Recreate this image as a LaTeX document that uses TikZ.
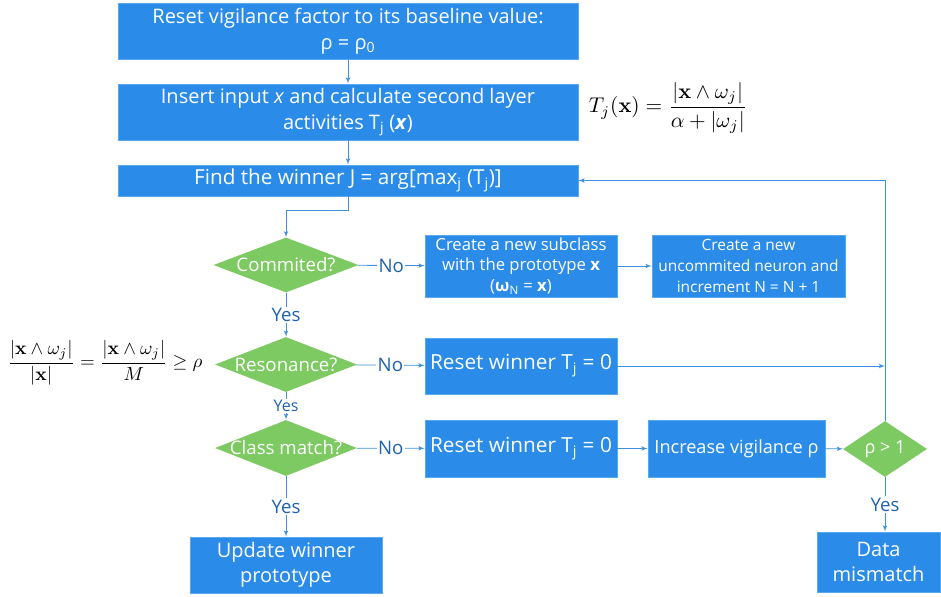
\documentclass[tikz,border=0pt]{standalone}
\usepackage[no-math]{fontspec}
\setmainfont{Open Sans}
\usepackage{amsmath}
\usetikzlibrary{shapes}
\usetikzlibrary{arrows}
\definecolor{boxblue}{HTML}{2A8CE8}
\definecolor{boxedge}{HTML}{5AA8EE}
\definecolor{dgreen}{HTML}{7DC962}
\definecolor{linkblue}{HTML}{3D8FE0}
\definecolor{labelblue}{HTML}{1F62AE}

\begin{document}
\begin{tikzpicture}[x=0.75pt,y=-0.75pt,
  flowbox/.style={rectangle,fill=boxblue,draw=boxedge,line width=0.6pt,text=white,align=center,inner sep=1pt},
  decide/.style={diamond,aspect=2.6,fill=dgreen,text=white,inner sep=-5pt,align=center},
  link/.style={line width=0.6pt,linkblue,arrows={-latex'}},
  answer/.style={text=labelblue,fill=white,inner sep=1pt,font=\fontsize{14}{16}\selectfont}]
\useasboundingbox (0,0) rectangle (941,596);

\node[flowbox,minimum width=345pt,minimum height=42pt,font=\fontsize{15}{19.5}\selectfont] (reset) at (348,31)
  {Reset vigilance factor to its baseline value:\\ρ = ρ\textsubscript{0}};
\node[flowbox,minimum width=345pt,minimum height=42pt,font=\fontsize{15}{19.5}\selectfont] (input) at (348,112)
  {Insert input \textit{x} and calculate second layer\\activities T\textsubscript{j} (\textbf{\textit{x}})};
\node[flowbox,minimum width=345pt,minimum height=23.25pt,font=\fontsize{15.5}{17}\selectfont] (winner) at (348,180.5)
  {Find the winner J = arg[max\textsubscript{j} (T\textsubscript{j})]};

\node[decide,minimum width=108.75pt,minimum height=41.25pt,font=\fontsize{14}{16}\selectfont] (commit) at (286,265) {Commited?};
\node[flowbox,minimum width=144pt,minimum height=46.5pt,font=\fontsize{12.5}{15.4}\selectfont] (subclass) at (521,266)
  {Create a new subclass\\with the prototype \textbf{x}\\(\textbf{ω}\textsubscript{N} = \textbf{x})};
\node[flowbox,minimum width=144.75pt,minimum height=46.5pt,font=\fontsize{11.6}{15.4}\selectfont] (neuron) at (748.5,266)
  {Create a new\\uncommited neuron and\\increment N = N + 1};

\node[decide,minimum width=106.5pt,minimum height=41.25pt,font=\fontsize{14}{16}\selectfont] (reson) at (286,364.5) {Resonance?};
\node[flowbox,minimum width=144pt,minimum height=42pt,font=\fontsize{15.6}{18}\selectfont] (zeroa) at (521,366)
  {Reset winner T\textsubscript{j} = 0};

\node[decide,minimum width=106.5pt,minimum height=42pt,font=\fontsize{14}{16}\selectfont] (match) at (286,448) {Class match?};
\node[flowbox,minimum width=144pt,minimum height=42.75pt,font=\fontsize{15.6}{18}\selectfont] (zerob) at (521,448.5)
  {Reset winner T\textsubscript{j} = 0};
\node[flowbox,minimum width=132.75pt,minimum height=42.75pt,font=\fontsize{13.6}{16}\selectfont] (raise) at (736.5,448.5)
  {Increase vigilance ρ};
\node[decide,aspect=1.5,minimum width=63pt,minimum height=42pt,font=\fontsize{13.5}{15}\selectfont] (limit) at (885,449) {ρ > 1};

\node[flowbox,minimum width=144pt,minimum height=42pt,font=\fontsize{15}{19}\selectfont] (update) at (286,565)
  {Update winner\\prototype};
\node[flowbox,minimum width=92.25pt,minimum height=45pt,font=\fontsize{15}{19}\selectfont] (mismatch) at (878.5,562)
  {Data\\mismatch};

\node[scale=1.6] (choice) at (668,108) {$T_j(\mathbf{x}) = \dfrac{|\mathbf{x}\wedge\omega_j|}{\alpha+|\omega_j|}$};
\node[scale=1.42] (vigil) at (105,363) {$\dfrac{|\mathbf{x}\wedge\omega_j|}{|\mathbf{x}|} = \dfrac{|\mathbf{x}\wedge\omega_j|}{M} \geq \rho$};

\draw[link] (reset) -- (input);
\draw[link] (input) -- (winner);
\draw[link] (winner.south) -- ++(0,14) -| (commit.north);
\draw[link] (commit) -- node[answer] {No} (subclass);
\draw[link] (subclass) -- (neuron);
\draw[link] (commit) -- node[answer] {Yes} (reson);
\draw[link] (reson) -- node[answer] {No} (zeroa);
\draw[link] (reson) -- node[answer,font=\fontsize{12}{13}\selectfont] {Yes} (match);
\draw[link] (match) -- node[answer] {No} (zerob);
\draw[link] (match) -- node[answer] {Yes} (update);
\draw[link] (zerob) -- (raise);
\draw[link] (raise) -- (limit);
\draw[link] (limit) -- node[answer] {Yes} (mismatch.north -| limit.south);
\draw[link] (limit.north) |- (winner.east);
\draw[link] (zeroa.east) -- (zeroa.east -| limit.north);

\end{tikzpicture}
\end{document}
